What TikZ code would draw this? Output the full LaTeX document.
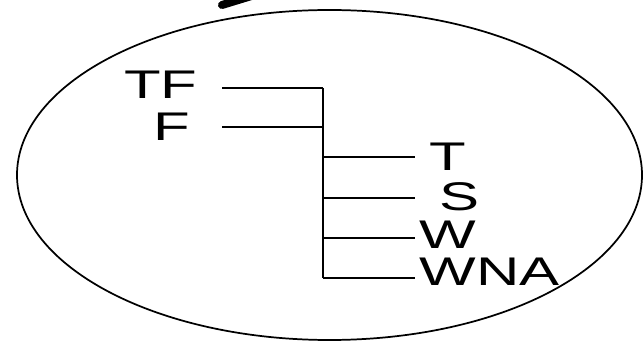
\documentclass[tikz,border=0pt]{standalone}
\usepackage{fontspec}
\setmainfont{Liberation Sans}
\usetikzlibrary{positioning}
\tikzset{
  lbl/.style={inner sep=0pt, font=\fontsize{30}{30}\selectfont, xscale=1.5},
  lead/.style={black, line width=1.5pt},
  rim/.style={black, line width=1.3pt},
  tick/.style={black, line width=6pt, line cap=round},
}

\begin{document}
\begin{tikzpicture}[x=0.75pt, y=-0.75pt]
    \useasboundingbox (0,0) rectangle (644,342);
    \def\barx{323} \def\tipx{415} \def\tailx{222}
    % outline
    \draw[rim] (329.5,175) ellipse [x radius=312.5, y radius=165];
    \begin{scope}
      \clip (0,0) rectangle (644,342);
      \draw[tick] (222,5) -- (258,-6);
    \end{scope}
    % left labels
    \node[lbl, anchor=east] (TF) at (198,85) {TF};
    \node[lbl, anchor=east] (F) at (191,127) {F};
    \coordinate (tfTail) at (\tailx,88);
    \coordinate (fTail) at (\tailx,127);
    \coordinate (tfJoin) at (\barx,88);
    \coordinate (fJoin) at (\barx,127);
    \draw[lead] (tfTail) -- (tfJoin);
    \draw[lead] (fTail) -- (fJoin);
    % right labels
    \foreach \n/\txt/\x/\ty/\ly in {t/T/429/157/157, s/S/439/197/198, w/W/419/235/238, wna/WNA/419/272/278}{
      \node[lbl, anchor=west] (\n) at (\x,\ty) {\txt};
      \coordinate (\n Join) at (\barx,\ly);
      \coordinate (\n Tip) at (\tipx,\ly);
      \draw[lead] (\n Join) -- (\n Tip);
    }
    \draw[lead] (tfJoin) -- (wnaJoin);
  \end{tikzpicture}
\end{document}
